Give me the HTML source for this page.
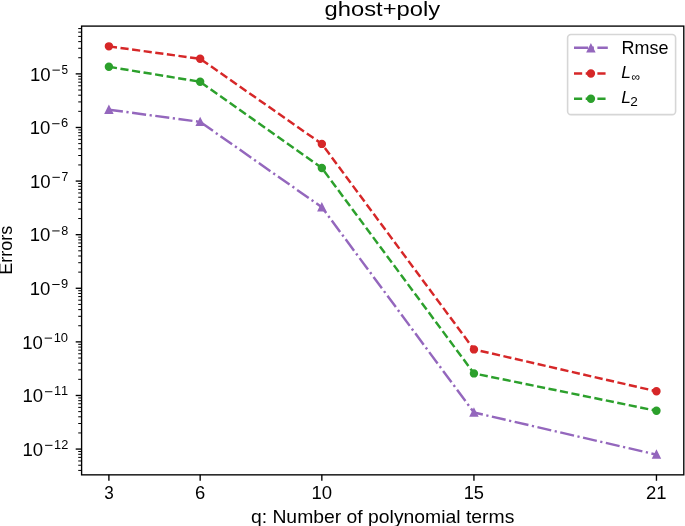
<!DOCTYPE html>
<html><head><meta charset="utf-8"><style>
html,body{margin:0;padding:0;background:#fff;}
svg{display:block;will-change:transform;}
text{font-family:"Liberation Sans",sans-serif;font-kerning:none;fill:#000;}
</style></head><body>
<svg width="685" height="526" viewBox="0 0 685 526">
<rect width="685" height="526" fill="#fff"/>
<rect x="81.6" y="26.1" width="602.2" height="448.75" fill="none" stroke="#000" stroke-width="1.35" stroke-linejoin="miter"/>
<path d="M81.6 470.41h-3.37" stroke="#000" stroke-width="1.0"/>
<path d="M81.6 465.22h-3.37" stroke="#000" stroke-width="1.0"/>
<path d="M81.6 460.97h-3.37" stroke="#000" stroke-width="1.0"/>
<path d="M81.6 457.38h-3.37" stroke="#000" stroke-width="1.0"/>
<path d="M81.6 454.27h-3.37" stroke="#000" stroke-width="1.0"/>
<path d="M81.6 451.53h-3.37" stroke="#000" stroke-width="1.0"/>
<path d="M81.6 449.08h-5.9" stroke="#000" stroke-width="1.35"/>
<path d="M81.6 432.94h-3.37" stroke="#000" stroke-width="1.0"/>
<path d="M81.6 423.51h-3.37" stroke="#000" stroke-width="1.0"/>
<path d="M81.6 416.81h-3.37" stroke="#000" stroke-width="1.0"/>
<path d="M81.6 411.62h-3.37" stroke="#000" stroke-width="1.0"/>
<path d="M81.6 407.37h-3.37" stroke="#000" stroke-width="1.0"/>
<path d="M81.6 403.78h-3.37" stroke="#000" stroke-width="1.0"/>
<path d="M81.6 400.67h-3.37" stroke="#000" stroke-width="1.0"/>
<path d="M81.6 397.93h-3.37" stroke="#000" stroke-width="1.0"/>
<path d="M81.6 395.48h-5.9" stroke="#000" stroke-width="1.35"/>
<path d="M81.6 379.34h-3.37" stroke="#000" stroke-width="1.0"/>
<path d="M81.6 369.91h-3.37" stroke="#000" stroke-width="1.0"/>
<path d="M81.6 363.21h-3.37" stroke="#000" stroke-width="1.0"/>
<path d="M81.6 358.02h-3.37" stroke="#000" stroke-width="1.0"/>
<path d="M81.6 353.77h-3.37" stroke="#000" stroke-width="1.0"/>
<path d="M81.6 350.18h-3.37" stroke="#000" stroke-width="1.0"/>
<path d="M81.6 347.07h-3.37" stroke="#000" stroke-width="1.0"/>
<path d="M81.6 344.33h-3.37" stroke="#000" stroke-width="1.0"/>
<path d="M81.6 341.88h-5.9" stroke="#000" stroke-width="1.35"/>
<path d="M81.6 325.74h-3.37" stroke="#000" stroke-width="1.0"/>
<path d="M81.6 316.31h-3.37" stroke="#000" stroke-width="1.0"/>
<path d="M81.6 309.61h-3.37" stroke="#000" stroke-width="1.0"/>
<path d="M81.6 304.42h-3.37" stroke="#000" stroke-width="1.0"/>
<path d="M81.6 300.17h-3.37" stroke="#000" stroke-width="1.0"/>
<path d="M81.6 296.58h-3.37" stroke="#000" stroke-width="1.0"/>
<path d="M81.6 293.47h-3.37" stroke="#000" stroke-width="1.0"/>
<path d="M81.6 290.73h-3.37" stroke="#000" stroke-width="1.0"/>
<path d="M81.6 288.28h-5.9" stroke="#000" stroke-width="1.35"/>
<path d="M81.6 272.14h-3.37" stroke="#000" stroke-width="1.0"/>
<path d="M81.6 262.71h-3.37" stroke="#000" stroke-width="1.0"/>
<path d="M81.6 256.01h-3.37" stroke="#000" stroke-width="1.0"/>
<path d="M81.6 250.82h-3.37" stroke="#000" stroke-width="1.0"/>
<path d="M81.6 246.57h-3.37" stroke="#000" stroke-width="1.0"/>
<path d="M81.6 242.98h-3.37" stroke="#000" stroke-width="1.0"/>
<path d="M81.6 239.87h-3.37" stroke="#000" stroke-width="1.0"/>
<path d="M81.6 237.13h-3.37" stroke="#000" stroke-width="1.0"/>
<path d="M81.6 234.68h-5.9" stroke="#000" stroke-width="1.35"/>
<path d="M81.6 218.54h-3.37" stroke="#000" stroke-width="1.0"/>
<path d="M81.6 209.11h-3.37" stroke="#000" stroke-width="1.0"/>
<path d="M81.6 202.41h-3.37" stroke="#000" stroke-width="1.0"/>
<path d="M81.6 197.22h-3.37" stroke="#000" stroke-width="1.0"/>
<path d="M81.6 192.97h-3.37" stroke="#000" stroke-width="1.0"/>
<path d="M81.6 189.38h-3.37" stroke="#000" stroke-width="1.0"/>
<path d="M81.6 186.27h-3.37" stroke="#000" stroke-width="1.0"/>
<path d="M81.6 183.53h-3.37" stroke="#000" stroke-width="1.0"/>
<path d="M81.6 181.08h-5.9" stroke="#000" stroke-width="1.35"/>
<path d="M81.6 164.94h-3.37" stroke="#000" stroke-width="1.0"/>
<path d="M81.6 155.51h-3.37" stroke="#000" stroke-width="1.0"/>
<path d="M81.6 148.81h-3.37" stroke="#000" stroke-width="1.0"/>
<path d="M81.6 143.62h-3.37" stroke="#000" stroke-width="1.0"/>
<path d="M81.6 139.37h-3.37" stroke="#000" stroke-width="1.0"/>
<path d="M81.6 135.78h-3.37" stroke="#000" stroke-width="1.0"/>
<path d="M81.6 132.67h-3.37" stroke="#000" stroke-width="1.0"/>
<path d="M81.6 129.93h-3.37" stroke="#000" stroke-width="1.0"/>
<path d="M81.6 127.48h-5.9" stroke="#000" stroke-width="1.35"/>
<path d="M81.6 111.34h-3.37" stroke="#000" stroke-width="1.0"/>
<path d="M81.6 101.91h-3.37" stroke="#000" stroke-width="1.0"/>
<path d="M81.6 95.21h-3.37" stroke="#000" stroke-width="1.0"/>
<path d="M81.6 90.02h-3.37" stroke="#000" stroke-width="1.0"/>
<path d="M81.6 85.77h-3.37" stroke="#000" stroke-width="1.0"/>
<path d="M81.6 82.18h-3.37" stroke="#000" stroke-width="1.0"/>
<path d="M81.6 79.07h-3.37" stroke="#000" stroke-width="1.0"/>
<path d="M81.6 76.33h-3.37" stroke="#000" stroke-width="1.0"/>
<path d="M81.6 73.88h-5.9" stroke="#000" stroke-width="1.35"/>
<path d="M81.6 57.74h-3.37" stroke="#000" stroke-width="1.0"/>
<path d="M81.6 48.31h-3.37" stroke="#000" stroke-width="1.0"/>
<path d="M81.6 41.61h-3.37" stroke="#000" stroke-width="1.0"/>
<path d="M81.6 36.42h-3.37" stroke="#000" stroke-width="1.0"/>
<path d="M81.6 32.17h-3.37" stroke="#000" stroke-width="1.0"/>
<path d="M81.6 28.58h-3.37" stroke="#000" stroke-width="1.0"/>
<path d="M108.9 474.85v5.9 M200.16 474.85v5.9 M321.84 474.85v5.9 M473.94 474.85v5.9 M656.46 474.85v5.9" stroke="#000" stroke-width="1.35"/>
<polyline points="108.9,109.7 200.16,121.9 321.84,207.2 473.94,412.5 656.46,454.6" fill="none" stroke="#9467bd" stroke-width="2.45" stroke-dasharray="14.12 3.53 2.21 3.53" stroke-linejoin="round" stroke-linecap="butt"/>
<path d="M108.9 106.33L105.53 113.07H112.27Z" fill="#9467bd" stroke="#9467bd" stroke-width="1.69" stroke-linejoin="miter"/>
<path d="M200.16 118.53L196.79 125.27H203.53Z" fill="#9467bd" stroke="#9467bd" stroke-width="1.69" stroke-linejoin="miter"/>
<path d="M321.84 203.83L318.47 210.57H325.21Z" fill="#9467bd" stroke="#9467bd" stroke-width="1.69" stroke-linejoin="miter"/>
<path d="M473.94 409.13L470.57 415.87H477.31Z" fill="#9467bd" stroke="#9467bd" stroke-width="1.69" stroke-linejoin="miter"/>
<path d="M656.46 451.23L653.09 457.97H659.83Z" fill="#9467bd" stroke="#9467bd" stroke-width="1.69" stroke-linejoin="miter"/>
<polyline points="108.9,46.35 200.16,58.8 321.84,143.9 473.94,349.4 656.46,391.3" fill="none" stroke="#d62728" stroke-width="2.45" stroke-dasharray="8.17 3.53" stroke-linejoin="round" stroke-linecap="butt"/>
<circle cx="108.9" cy="46.35" r="3.37" fill="#d62728" stroke="#d62728" stroke-width="1.69"/>
<circle cx="200.16" cy="58.8" r="3.37" fill="#d62728" stroke="#d62728" stroke-width="1.69"/>
<circle cx="321.84" cy="143.9" r="3.37" fill="#d62728" stroke="#d62728" stroke-width="1.69"/>
<circle cx="473.94" cy="349.4" r="3.37" fill="#d62728" stroke="#d62728" stroke-width="1.69"/>
<circle cx="656.46" cy="391.3" r="3.37" fill="#d62728" stroke="#d62728" stroke-width="1.69"/>
<polyline points="108.9,66.8 200.16,81.8 321.84,168 473.94,373.4 656.46,410.8" fill="none" stroke="#2ca02c" stroke-width="2.45" stroke-dasharray="8.17 3.53" stroke-linejoin="round" stroke-linecap="butt"/>
<circle cx="108.9" cy="66.8" r="3.37" fill="#2ca02c" stroke="#2ca02c" stroke-width="1.69"/>
<circle cx="200.16" cy="81.8" r="3.37" fill="#2ca02c" stroke="#2ca02c" stroke-width="1.69"/>
<circle cx="321.84" cy="168" r="3.37" fill="#2ca02c" stroke="#2ca02c" stroke-width="1.69"/>
<circle cx="473.94" cy="373.4" r="3.37" fill="#2ca02c" stroke="#2ca02c" stroke-width="1.69"/>
<circle cx="656.46" cy="410.8" r="3.37" fill="#2ca02c" stroke="#2ca02c" stroke-width="1.69"/>
<rect x="567.6" y="34.55" width="108" height="80.05" rx="3.4" fill="#fff" fill-opacity="0.8" stroke="#d6d6d6" stroke-width="1.6"/>
<path d="M574.0 47.8H607.8" stroke="#9467bd" stroke-width="2.45" stroke-dasharray="14.12 3.53 2.21 3.53"/>
<path d="M590.9 44.93L587.53 51.67H594.27Z" fill="#9467bd" stroke="#9467bd" stroke-width="1.69" stroke-linejoin="miter"/>
<path d="M574.0 73.5H607.8" stroke="#d62728" stroke-width="2.45" stroke-dasharray="8.17 3.53"/>
<circle cx="590.9" cy="73.5" r="3.37" fill="#d62728" stroke="#d62728" stroke-width="1.69"/>
<path d="M574.0 98.7H607.8" stroke="#2ca02c" stroke-width="2.45" stroke-dasharray="8.17 3.53"/>
<circle cx="590.9" cy="98.7" r="3.37" fill="#2ca02c" stroke="#2ca02c" stroke-width="1.69"/>
<text transform="translate(621.52,53.7) scale(1.0279,1)" font-size="17.5" style="">Rmse</text>
<text transform="translate(621.37,77.8) scale(1.0322,1)" font-size="16.8" style="font-style:italic;">L</text>
<text transform="translate(631.49,80.81) scale(0.9880,1)" font-size="12.25" style="">∞</text>
<text transform="translate(621.37,103) scale(1.0322,1)" font-size="16.8" style="font-style:italic;">L</text>
<text transform="translate(630.32,105.8) scale(1.1110,1)" font-size="12.25" style="">2</text>
<text transform="translate(104.16,499.3) scale(0.9776,1)" font-size="17.5" style="">3</text>
<text transform="translate(195.03,499.3) scale(1.0536,1)" font-size="17.5" style="">6</text>
<text transform="translate(311.53,499.3) scale(1.0617,1)" font-size="17.5" style="">10</text>
<text transform="translate(463.65,499.3) scale(1.0445,1)" font-size="17.5" style="">15</text>
<text transform="translate(646.02,499.3) scale(1.0551,1)" font-size="17.5" style="">21</text>
<text transform="translate(29.93,80.63) scale(1.0617,1)" font-size="17.5" style="">10</text>
<text transform="translate(61.55,73.83) scale(0.9607,1)" font-size="12.25" style="">5</text>
<rect x="52.45" y="69.63" width="7.4" height="0.98" fill="#000"/>
<text transform="translate(29.64,134.23) scale(1.0617,1)" font-size="17.5" style="">10</text>
<text transform="translate(60.99,127.43) scale(1.0536,1)" font-size="12.25" style="">6</text>
<rect x="52.16" y="123.23" width="7.4" height="0.98" fill="#000"/>
<text transform="translate(29.91,187.83) scale(1.0617,1)" font-size="17.5" style="">10</text>
<text transform="translate(61.43,181.03) scale(0.9958,1)" font-size="12.25" style="">7</text>
<rect x="52.43" y="176.83" width="7.4" height="0.98" fill="#000"/>
<text transform="translate(29.71,241.43) scale(1.0617,1)" font-size="17.5" style="">10</text>
<text transform="translate(61.14,234.63) scale(1.0290,1)" font-size="12.25" style="">8</text>
<rect x="52.22" y="230.43" width="7.4" height="0.98" fill="#000"/>
<text transform="translate(29.73,295.03) scale(1.0617,1)" font-size="17.5" style="">10</text>
<text transform="translate(61.05,288.23) scale(1.0515,1)" font-size="12.25" style="">9</text>
<rect x="52.25" y="284.03" width="7.4" height="0.98" fill="#000"/>
<text transform="translate(22.16,348.63) scale(1.0617,1)" font-size="17.5" style="">10</text>
<text transform="translate(53.64,341.83) scale(1.0617,1)" font-size="12.25" style="">10</text>
<rect x="44.67" y="337.63" width="7.4" height="0.98" fill="#000"/>
<text transform="translate(22.46,402.23) scale(1.0617,1)" font-size="17.5" style="">10</text>
<text transform="translate(53.96,395.43) scale(1.0469,1)" font-size="12.25" style="">11</text>
<rect x="44.98" y="391.23" width="7.4" height="0.98" fill="#000"/>
<text transform="translate(22.55,455.83) scale(1.0617,1)" font-size="17.5" style="">10</text>
<text transform="translate(54.06,449.03) scale(1.0408,1)" font-size="12.25" style="">12</text>
<rect x="45.07" y="444.83" width="7.4" height="0.98" fill="#000"/>
<text transform="translate(324.6,15.6) scale(1.1320,1)" font-size="21" style="">ghost+poly</text>
<text transform="translate(250.89,523) scale(1.1067,1)" font-size="17.5" style="">q: Number of polynomial terms</text>
<g transform="rotate(-90)">
<text transform="translate(-274.78,12) scale(1.0314,1)" font-size="17.5" style="">Errors</text>
</g>
</svg>
</body></html>
